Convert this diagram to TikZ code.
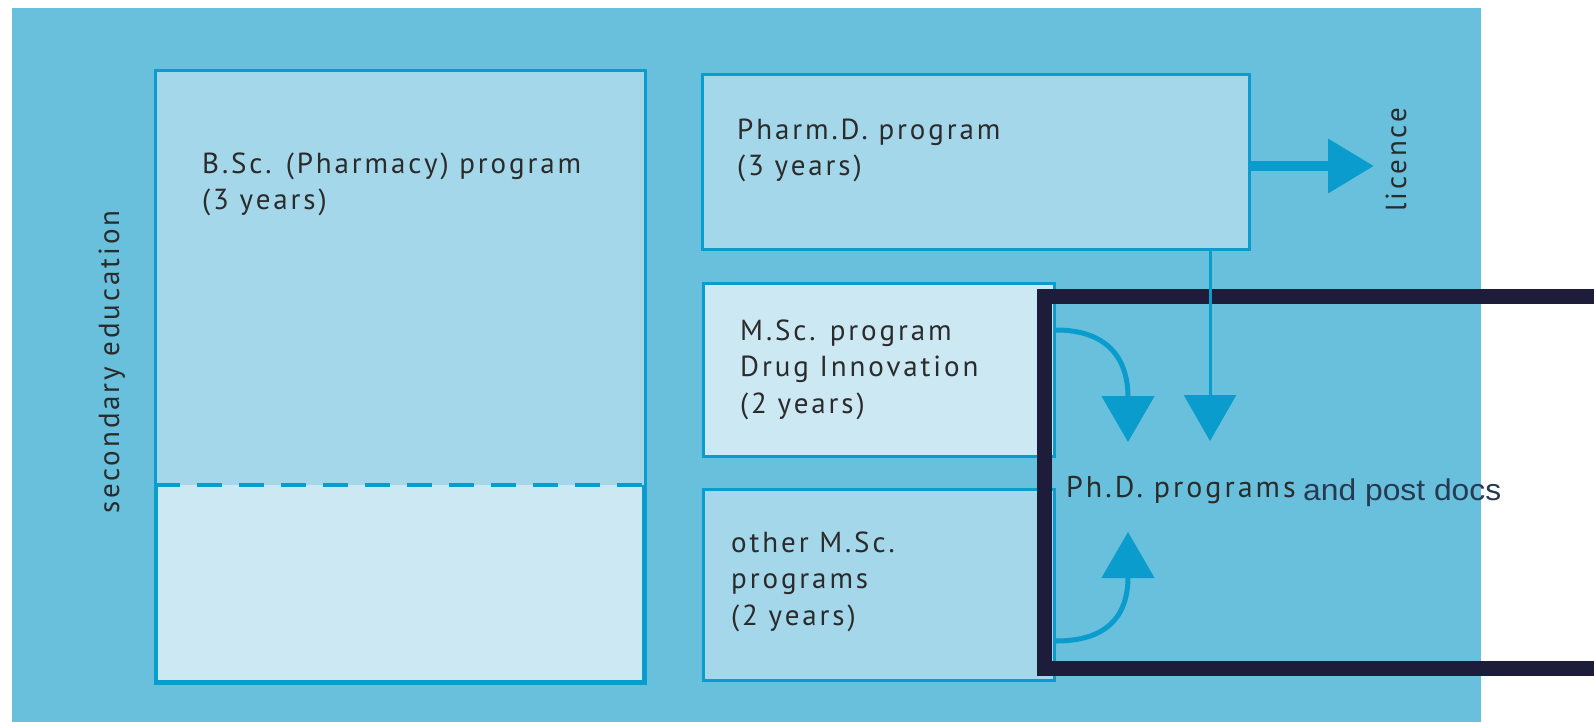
\documentclass[tikz,border=0pt]{standalone}
\usepackage{fontspec}
\setmainfont{PT Sans}
\newfontfamily\boxfont[LetterSpace=10]{PT Sans}
\newfontfamily\notefont{Liberation Sans}
\usetikzlibrary{arrows.meta}

\definecolor{bgblue}{HTML}{68C0DD}
\definecolor{midblue}{HTML}{A4D7EA}
\definecolor{paleblue}{HTML}{CCE8F3}
\definecolor{edgeblue}{HTML}{0A9CCD}
\definecolor{navy}{HTML}{1D1D3B}
\definecolor{ink}{HTML}{2B2B2B}
\definecolor{noteink}{HTML}{283A52}

% strut so the first baseline sits a fixed distance below the node top
\newcommand{\firstline}{\rule{0pt}{24pt}}

\begin{document}
\begin{tikzpicture}[x=1pt, y=-1pt,
  panel/.style={draw=edgeblue, line width=3pt, anchor=north west, inner sep=0pt},
  txt/.style={font=\boxfont\fontsize{29}{36.5}\selectfont, text=ink, align=left, anchor=north west, inner sep=0pt},
  sidetxt/.style={font=\boxfont\fontsize{29}{32}\selectfont, text=ink, inner sep=0pt, rotate=90, anchor=base west},
  fatarrow/.style={draw=edgeblue, line width=10pt, -{Triangle[width=52pt,length=46pt]}},
  flow/.style={draw=edgeblue, line width=5pt, -{Triangle[width=52pt,length=46pt]}},
  feed/.style={draw=edgeblue, line width=3pt, -{Triangle[width=52pt,length=46pt]}},
  frame/.style={draw=navy, line width=15pt, line join=miter}]
  \useasboundingbox (0,0) rectangle (1594,722);
  \clip (0,0) rectangle (1594,722);
  \fill[bgblue] (12,8) rectangle (1481,722);

  % bachelor block, split by the dashed line
  \node[panel, fill=paleblue, minimum width=487pt, minimum height=609pt] (bsc) at (155,71) {};
  \coordinate (split) at (155,485);
  \fill[midblue] (bsc.north west) rectangle (bsc.east |- split);
  \draw[edgeblue, line width=3pt] (bsc.north west) rectangle (bsc.south east);
  \draw[edgeblue, line width=3.5pt, dash pattern=on 25pt off 17pt] (split) -- (bsc.east |- split);

  % master blocks
  \node[panel, fill=midblue, minimum width=547pt, minimum height=175pt] (pharmd) at (701,73) {};
  \node[panel, fill=paleblue, minimum width=351pt, minimum height=173pt] (msc) at (702,282) {};
  \node[panel, fill=midblue, minimum width=351pt, minimum height=191pt] (other) at (702,488) {};

  % highlight frame round the doctorate
  \draw[frame] (1610,296) -| (1044,668) -- (1610,668);

  % arrows
  \coordinate (lic) at (1374,166);
  \coordinate (drop) at (1210,441);
  \coordinate (tipa) at (1128,442);
  \coordinate (tipb) at (1128,532);
  \draw[fatarrow] (pharmd.east |- lic) -- (lic);
  \draw[feed] (pharmd.south -| drop) -- (drop);
  \draw[flow] ([yshift=40pt]msc.east) .. controls +(50,0) and +(0,-85) .. (tipa);
  \draw[flow] ([yshift=-56pt]other.east) .. controls +(50,0) and +(0,85) .. (tipb);

  % labels
  \node[txt] (bsctxt) at (202,149) {\firstline B.Sc. (Pharmacy) program\\(3 years)};
  \node[txt] (pharmdtxt) at (737,115) {\firstline Pharm.D. program\\(3 years)};
  \node[txt] (msctxt) at (740,316) {\firstline M.Sc. program\\Drug Innovation\\(2 years)};
  \node[txt] (othertxt) at (731,528) {\firstline other M.Sc.\\programs\\(2 years)};
  \node[sidetxt] (secondary) at (119,514) {secondary education};
  \node[sidetxt] (licence) at (1406,212) {licence};
  \node[font=\boxfont\fontsize{30}{32}\selectfont, text=ink, inner sep=0pt, anchor=base west] (phd) at (1066,497) {Ph.D. programs};
  \node[font=\notefont\fontsize{30}{32}\selectfont, text=noteink, inner sep=0pt, anchor=base west, xscale=1.06] (postdoc) at (1303,500) {and post docs};
\end{tikzpicture}
\end{document}
